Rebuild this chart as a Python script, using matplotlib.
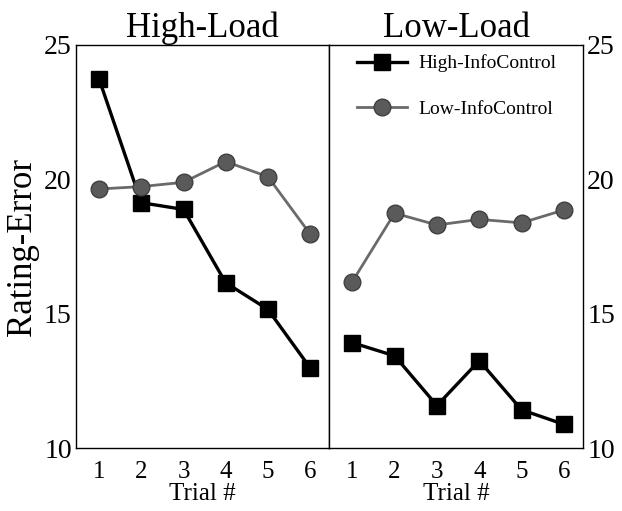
import matplotlib
matplotlib.use("Agg")
import matplotlib.pyplot as plt
from matplotlib.lines import Line2D

plt.rcParams['font.family'] = ['Liberation Serif', 'DejaVu Serif']

trials = [1, 2, 3, 4, 5, 6]
panel_titles = ["High-Load", "Low-Load"]
series_names = ["High-InfoControl", "Low-InfoControl"]
yticks = [10, 15, 20, 25]

high_load_high_info = [23.72, 19.13, 18.88, 16.15, 15.16, 12.99]
high_load_low_info = [19.64, 19.73, 19.89, 20.66, 20.10, 17.97]
low_load_high_info = [13.92, 13.43, 11.58, 13.25, 11.42, 10.88]
low_load_low_info = [16.19, 18.74, 18.30, 18.51, 18.38, 18.86]

W, H = 622, 511
fig = plt.figure(figsize=(W / 100, H / 100), dpi=100)

left, right, top, bottom = 76, 583, 45, 448
mid = 329
axL = fig.add_axes([left / W, (H - bottom) / H, (mid - left) / W, (bottom - top) / H])
axR = fig.add_axes([mid / W, (H - bottom) / H, (right - mid) / W, (bottom - top) / H])

sq_style = dict(color='black', lw=2.4, marker='s', ms=11.5, mfc='black', mec='black', zorder=3)
ci_style = dict(color='#6a6a6a', lw=2.0, marker='o', ms=12, mfc='#5a5a5a', mec='#404040',
                mew=1.0, zorder=4)

for ax, hi, lo, title in [(axL, high_load_high_info, high_load_low_info, panel_titles[0]),
                          (axR, low_load_high_info, low_load_low_info, panel_titles[1])]:
    ax.plot(trials, hi, **sq_style)
    ax.plot(trials, lo, **ci_style)
    ax.set_xlim(0.45, 6.45)
    ax.set_ylim(10, 25)
    ax.set_xticks(trials)
    ax.set_yticks(yticks)
    ax.tick_params(length=0)
    ax.tick_params(axis='x', labelsize=18, pad=9)
    ax.tick_params(axis='y', labelsize=20, pad=3)
    ax.set_xlabel("Trial #", fontsize=18, labelpad=0)
    ax.set_title(title, fontsize=25, pad=6)
    for s in ax.spines.values():
        s.set_linewidth(1.0)

axL.set_ylabel("Rating-Error", fontsize=25, labelpad=4)
axR.yaxis.tick_right()
axR.tick_params(axis='y', labelleft=False, labelright=True, pad=3)

handles = [Line2D([], [], **{k: v for k, v in sq_style.items() if k != 'zorder'}),
           Line2D([], [], **{k: v for k, v in ci_style.items() if k != 'zorder'})]
axR.legend(handles, series_names, loc='upper left', bbox_to_anchor=(0.04, 1.02),
           frameon=False, fontsize=14, handlelength=2.6, labelspacing=1.45,
           handletextpad=0.6)

fig.savefig("out.png", dpi=100)
